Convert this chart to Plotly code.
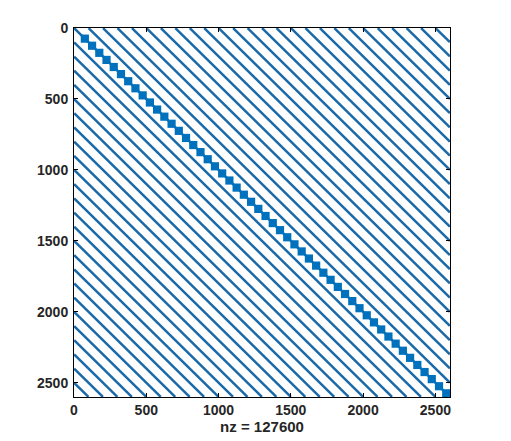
import plotly.graph_objects as go

# Matrix structure
n = 2600
nz_label = "nz = 127600"
diag_offsets = [-2500, -2400, -2300, -2200, -2100, -2000, -1900, -1800, -1700, -1600,
                -1500, -1400, -1300, -1200, -1100, -1000, -900, -800, -700, -600,
                -500, -400, -300, -200, -100, 0, 100, 200, 300, 400, 500, 600, 700,
                800, 900, 1000, 1100, 1200, 1300, 1400, 1500, 1600, 1700, 1800, 1900,
                2000, 2100, 2200, 2300, 2400, 2500]
block_size = 50
block_starts = [50, 100, 150, 200, 250, 300, 350, 400, 450, 500, 550, 600, 650, 700,
                750, 800, 850, 900, 950, 1000, 1050, 1100, 1150, 1200, 1250, 1300,
                1350, 1400, 1450, 1500, 1550, 1600, 1650, 1700, 1750, 1800, 1850,
                1900, 1950, 2000, 2050, 2100, 2150, 2200, 2250, 2300, 2350, 2400,
                2450, 2500, 2550]
tick_vals = [0, 500, 1000, 1500, 2000, 2500]

# diagonal bands as segments (column j = row i + d)
lx, ly = [], []
for d in diag_offsets:
    if d >= 0:
        lx += [1 + d, n, None]
        ly += [1, n - d, None]
    else:
        lx += [1, n + d, None]
        ly += [1 - d, n, None]

bx = [s + block_size / 2 for s in block_starts]
by = [s + block_size / 2 for s in block_starts]

fig = go.Figure()
fig.add_trace(go.Scatter(x=lx, y=ly, mode="lines",
                         line=dict(color="#1a69a8", width=2.5),
                         hoverinfo="skip", showlegend=False))
fig.add_trace(go.Scatter(x=bx, y=by, mode="markers",
                         marker=dict(symbol="square", size=8.2, color="#0072BD",
                                     line=dict(width=0)),
                         showlegend=False))

axis_common = dict(
    showgrid=False, zeroline=False, showline=True, linecolor="black", linewidth=1,
    mirror="allticks", ticks="inside", ticklen=4, tickcolor="black",
    tickvals=tick_vals, ticktext=[str(v) for v in tick_vals],
    tickfont=dict(family="Liberation Sans, Arial", size=14, color="#262626", weight="bold"),
)

fig.update_layout(
    width=511, height=441,
    margin=dict(l=66, r=69, t=13, b=52),
    paper_bgcolor="white", plot_bgcolor="white",
    xaxis=dict(range=[0, n + 1], **axis_common,
               title=dict(text=nz_label, standoff=1,
                          font=dict(family="Liberation Sans, Arial", size=15,
                                    color="#262626", weight="bold"))),
    yaxis=dict(range=[n + 1, 0], ticklabelstandoff=2, **axis_common),
)

fig.write_html("out.html")
